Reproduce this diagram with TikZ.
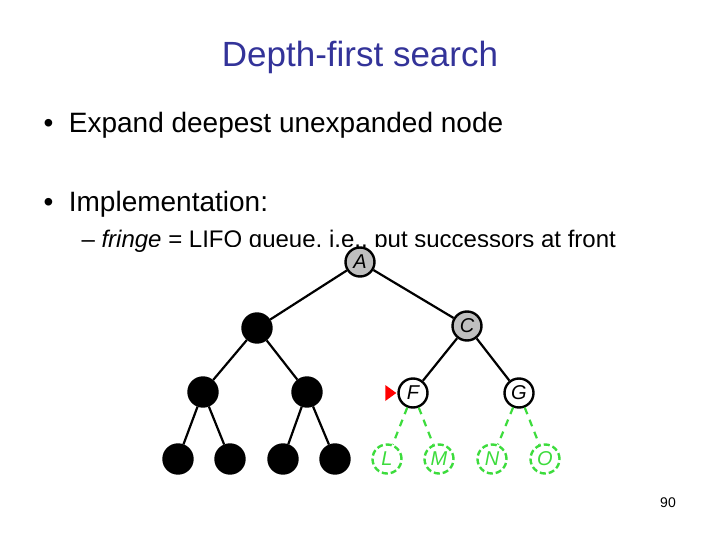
\documentclass[tikz,border=0pt]{standalone}
\usepackage{fontspec}
\setmainfont{Liberation Sans}
\definecolor{titleblue}{RGB}{51,51,153}
\definecolor{treegreen}{RGB}{60,220,60}
\begin{document}
\begin{tikzpicture}[x=1pt,y=-1pt,
  tnode/.style={circle,draw=black,line width=2.4pt,minimum size=29pt,inner sep=0pt,font=\itshape\fontsize{20}{20}\selectfont},
  done/.style={tnode,fill=black},
  seen/.style={tnode,fill=black!25},
  open/.style={tnode,fill=white},
  fresh/.style={tnode,draw=treegreen,text=treegreen,dash pattern=on 6pt off 3pt,fill=white},
  edge/.style={line width=2.2pt},
  newedge/.style={edge,draw=treegreen,dash pattern=on 7pt off 6pt}]
\useasboundingbox (0,0) rectangle (720,540);
\node[titleblue,font=\fontsize{35}{35}\selectfont] (title) at (360,57) {Depth-first search};
\node[anchor=west,font=\fontsize{28}{28}\selectfont] (b1) at (40,125) {\textbullet\ \ Expand deepest unexpanded node};
\node[anchor=west,font=\fontsize{28}{28}\selectfont] (b2) at (40,204) {\textbullet\ \ Implementation:};
\node[anchor=west,font=\fontsize{24}{24}\selectfont] (b3) at (78,241) {-- \textit{fringe} = LIFO queue, i.e., put successors at front};
\fill[white] (150,247) rectangle (564,485);
% tree
\node[seen] (A) at (360,262) {A};
\node[done] (B) at (257,328) {};
\node[seen] (C) at (467,326) {C};
\node[done] (D) at (203,392) {};
\node[done] (E) at (307,392) {};
\node[open] (F) at (413,393) {F};
\node[open] (G) at (519,393) {G};
\node[done] (H) at (178,459) {};
\node[done] (I) at (230,459) {};
\node[done] (J) at (283,459) {};
\node[done] (K) at (335,459) {};
\node[fresh] (L) at (387,459) {L};
\node[fresh] (M) at (439,459) {M};
\node[fresh] (N) at (492,459) {N};
\node[fresh] (O) at (545,459) {O};
\foreach \p/\c in {A/B,A/C,B/D,B/E,C/F,C/G,D/H,D/I,E/J,E/K}
  \draw[edge] (\p) -- (\c);
\foreach \p/\c in {F/L,F/M,G/N,G/O}
  \draw[newedge] (\p) -- (\c);
\coordinate (tip) at (F.west);
\fill[red] ([xshift=-1pt]tip) -- ++(-11,-8) -- ++(0,16) -- cycle;
\node[font=\fontsize{14}{14}\selectfont] (page) at (668,503) {90};
\end{tikzpicture}
\end{document}
